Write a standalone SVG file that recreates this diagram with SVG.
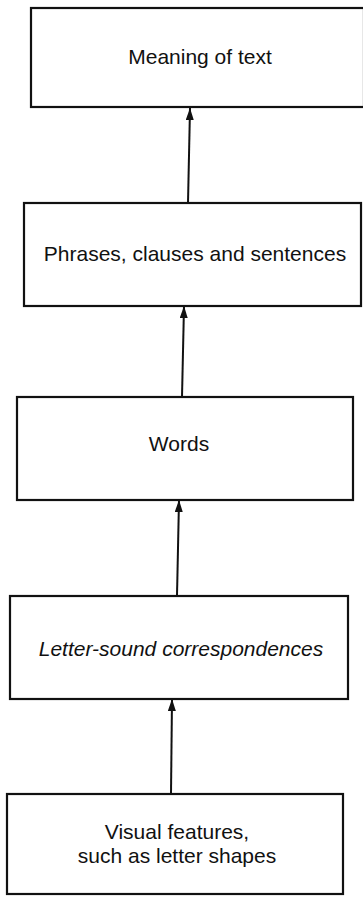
<svg xmlns="http://www.w3.org/2000/svg" width="363" height="897" viewBox="0 0 363 897">
<style>
.box{fill:#fff;stroke:#111;stroke-width:2.2}
.lbl{font-family:"Liberation Sans",Arial,sans-serif;font-size:21px;fill:#111;text-anchor:middle}
.it{font-style:italic}
.conn{stroke:#111;stroke-width:2;fill:none}
</style>
<defs>
<marker id="ah" viewBox="0 0 12 8" refX="12" refY="4" markerWidth="12" markerHeight="8" markerUnits="userSpaceOnUse" orient="auto">
<path d="M0,0 L12,4 L0,8 Z" fill="#111"/>
</marker>
</defs>
<rect width="363" height="897" fill="#fff"/>
<g id="connectors">
<line class="conn" x1="188" y1="203" x2="190" y2="108" marker-end="url(#ah)"/>
<line class="conn" x1="182" y1="397" x2="184" y2="306" marker-end="url(#ah)"/>
<line class="conn" x1="177" y1="596" x2="179" y2="500" marker-end="url(#ah)"/>
<line class="conn" x1="171" y1="794" x2="172" y2="699" marker-end="url(#ah)"/>
</g>
<g id="n1">
<rect class="box" x="31" y="8" width="333" height="99"/>
<text class="lbl" x="200" y="64">Meaning of text</text>
</g>
<g id="n2">
<rect class="box" x="24" y="203" width="337" height="103"/>
<text class="lbl" x="195" y="261">Phrases, clauses and sentences</text>
</g>
<g id="n3">
<rect class="box" x="17" y="397" width="336" height="103"/>
<text class="lbl" x="179" y="451">Words</text>
</g>
<g id="n4">
<rect class="box" x="10" y="596" width="338" height="103"/>
<text class="lbl it" x="181" y="656">Letter-sound correspondences</text>
</g>
<g id="n5">
<rect class="box" x="7" y="794" width="336" height="100"/>
<text class="lbl" x="177" y="839">Visual features,</text>
<text class="lbl" x="177" y="863">such as letter shapes</text>
</g>
</svg>
